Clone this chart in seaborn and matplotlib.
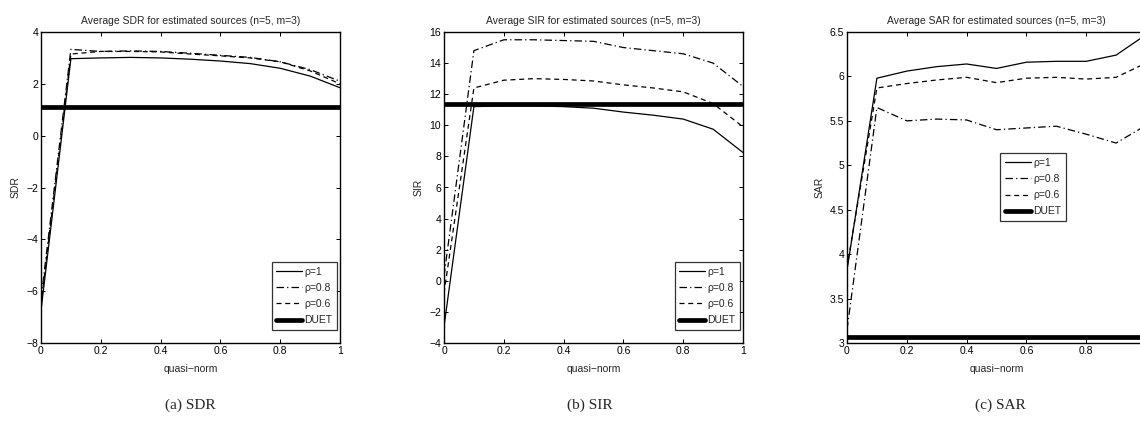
import numpy as np
import pandas as pd
import seaborn as sns
import matplotlib
matplotlib.use("Agg")
import matplotlib.pyplot as plt

# quasi-norm exponent grid
quasi_norm = [0.0, 0.1, 0.2, 0.3, 0.4, 0.5, 0.6, 0.7, 0.8, 0.9, 1.0]

# SDR per rho
sdr_rho1 = [-6.75, 2.97, 3.00, 3.02, 3.00, 2.95, 2.88, 2.78, 2.60, 2.30, 1.85]
sdr_rho08 = [-6.30, 3.33, 3.25, 3.27, 3.25, 3.18, 3.10, 3.02, 2.85, 2.55, 2.10]
sdr_rho06 = [-6.50, 3.15, 3.25, 3.25, 3.23, 3.15, 3.08, 3.00, 2.85, 2.50, 2.00]
sdr_duet = 1.10

# SIR per rho
sir_rho1 = [-2.95, 11.20, 11.25, 11.25, 11.20, 11.10, 10.85, 10.65, 10.40, 9.75, 8.25]
sir_rho08 = [0.30, 14.80, 15.50, 15.50, 15.45, 15.40, 15.00, 14.80, 14.60, 14.00, 12.50]
sir_rho06 = [-0.80, 12.40, 12.90, 13.00, 12.95, 12.85, 12.60, 12.40, 12.15, 11.40, 9.90]
sir_duet = 11.35

# SAR per rho
sar_rho1 = [3.82, 5.98, 6.06, 6.11, 6.14, 6.09, 6.16, 6.17, 6.17, 6.24, 6.47]
sar_rho08 = [3.15, 5.65, 5.50, 5.52, 5.51, 5.40, 5.42, 5.44, 5.35, 5.25, 5.45]
sar_rho06 = [3.85, 5.87, 5.92, 5.96, 5.99, 5.93, 5.98, 5.99, 5.97, 5.99, 6.15]
sar_duet = 3.07

series_labels = ["\u03c1=1", "\u03c1=0.8", "\u03c1=0.6", "DUET"]
metric_names = ["SDR", "SIR", "SAR"]
captions = ["(a) SDR", "(b) SIR", "(c) SAR"]
y_limits = [(-8, 4), (-4, 16), (3, 6.5)]
y_ticks = [
    [-8, -6, -4, -2, 0, 2, 4],
    [-4, -2, 0, 2, 4, 6, 8, 10, 12, 14, 16],
    [3, 3.5, 4, 4.5, 5, 5.5, 6, 6.5],
]
y_ticklabels = [
    ["\u22128", "\u22126", "\u22124", "\u22122", "0", "2", "4"],
    ["\u22124", "\u22122", "0", "2", "4", "6", "8", "10", "12", "14", "16"],
    ["3", "3.5", "4", "4.5", "5", "5.5", "6", "6.5"],
]
x_ticks = [0, 0.2, 0.4, 0.6, 0.8, 1]
x_ticklabels = [
    ["0", "0.2", "0.4", "0.6", "0.8", "1"],
    ["0", "0.2", "0.4", "0.6", "0.8", "1"],
    ["0", "0.2", "0.4", "0.6", "0.8", ""],  # last label falls past the page edge
]

curves = [
    (sdr_rho1, sdr_rho08, sdr_rho06, sdr_duet),
    (sir_rho1, sir_rho08, sir_rho06, sir_duet),
    (sar_rho1, sar_rho08, sar_rho06, sar_duet),
]

sns.set_style("white")
plt.rcParams["font.family"] = ["Liberation Sans", "DejaVu Sans"]

W, H = 1140, 423
fig = plt.figure(figsize=(W / 100, H / 100), dpi=100)

ax_left_px = [41, 444, 847]
ax_w_px, ax_top_px, ax_bot_px = 299, 32, 343
# legend anchors in axes fraction: (x, y, loc)
legend_pos = [(0.99, 0.042, "lower right"), (0.99, 0.042, "lower right"),
              (0.732, 0.611, "upper right")]
caption_x = [190, 590, 1000]

styles = [
    dict(linestyle="-", linewidth=0.9),
    dict(linestyle=(0, (6, 2.5, 1, 2.5)), linewidth=0.9),
    dict(linestyle=(0, (4, 3)), linewidth=0.9),
]

for i in range(3):
    ax = fig.add_axes([
        ax_left_px[i] / W,
        (H - ax_bot_px) / H,
        ax_w_px / W,
        (ax_bot_px - ax_top_px) / H,
    ])
    r1, r08, r06, duet = curves[i]
    for vals, st, lab in zip((r1, r08, r06), styles, series_labels[:3]):
        df = pd.DataFrame({"quasi-norm": quasi_norm, "value": vals})
        sns.lineplot(data=df, x="quasi-norm", y="value", ax=ax, color="black",
                     label=lab, **st)
    duet_df = pd.DataFrame({"quasi-norm": [quasi_norm[0], quasi_norm[-1]],
                            "value": [duet, duet]})
    sns.lineplot(data=duet_df, x="quasi-norm", y="value", ax=ax, color="black",
                 linewidth=3.4, label=series_labels[3])

    ax.set_xlim(0, 1)
    ax.set_ylim(*y_limits[i])
    ax.set_xticks(x_ticks)
    ax.set_xticklabels(x_ticklabels[i])
    ax.set_yticks(y_ticks[i])
    ax.set_yticklabels(y_ticklabels[i])
    ax.tick_params(direction="in", length=3, width=0.7, labelsize=7.5,
                   top=True, right=True, bottom=True, left=True, pad=2,
                   colors="black")
    for sp in ax.spines.values():
        sp.set_visible(True)
        sp.set_color("black")
        sp.set_linewidth(1.0)
    ax.set_xlabel("quasi\u2212norm", fontsize=7.5, labelpad=6)
    ax.set_ylabel(metric_names[i], fontsize=7.5, labelpad=4)
    ax.set_title(f"Average {metric_names[i]} for estimated sources (n=5, m=3)",
                 fontsize=7.5, pad=6)

    lx, ly, loc = legend_pos[i]
    leg = ax.legend(loc=loc, bbox_to_anchor=(lx, ly),
                    fontsize=7.5, frameon=True, fancybox=False, handlelength=2.5,
                    handletextpad=0.2, borderpad=0.45, labelspacing=0.6,
                    borderaxespad=0)
    leg.get_frame().set_edgecolor("black")
    leg.get_frame().set_linewidth(0.9)

    fig.text(caption_x[i] / W, 1 - 405 / H, captions[i], ha="center", va="center",
             fontsize=11, family=["Liberation Serif", "DejaVu Serif"])

fig.savefig("out.png", dpi=100)
